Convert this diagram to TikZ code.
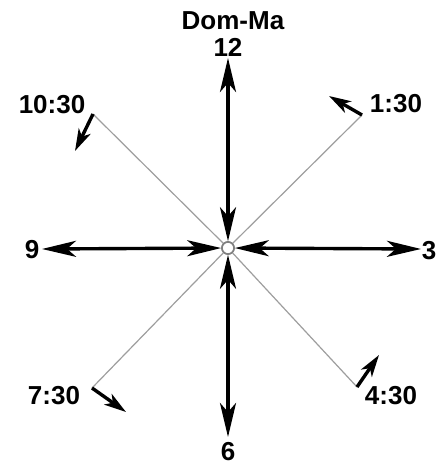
\documentclass[tikz,border=0pt]{standalone}
\usepackage{fontspec}
\setmainfont{Liberation Sans}
\usetikzlibrary{arrows.meta}
\tikzset{
  lbl/.style={font=\bfseries\fontsize{26}{29}\selectfont, inner sep=0pt},
  mainarrow/.style={line width=3.4pt, {Stealth[length=34pt,width=16pt,inset=9pt]}-{Stealth[length=34pt,width=16pt,inset=9pt]}},
  guide/.style={draw=black!38, line width=1.2pt},
  smallarrow/.style={line width=3.4pt, -{Stealth[length=22pt,width=13pt,inset=6pt]}},
  hub/.style={circle, draw=black!50, line width=1.6pt, fill=white, minimum size=12pt, inner sep=0pt}
}
\begin{document}
\begin{tikzpicture}[x=1pt,y=-1pt]
\useasboundingbox (0,0) rectangle (437,466);
\fill[white] (0,0) rectangle (437,466);
% diagonal guide ends
\coordinate (d1) at (93,114);
\coordinate (d2) at (362,115);
\coordinate (d3) at (92,388);
\coordinate (d4) at (357,387);
\coordinate (e1) at (75,151);
\coordinate (e2) at (329,96);
\coordinate (e3) at (126,412);
\coordinate (e4) at (379,355);
% outer tips
\coordinate (t12) at (228,58);
\coordinate (t6) at (228,437);
\coordinate (t9) at (42,249);
\coordinate (t3) at (421,249);
\node[hub] (c) at (228,248) {};
\draw[guide] (c.center) -- (d1);
\draw[guide] (c.center) -- (d2);
\draw[guide] (c.center) -- (d3);
\draw[guide] (c.center) -- (d4);
\node[hub] (c2) at (228,248) {};
\draw[mainarrow] (c2) -- (t12);
\draw[mainarrow] (c2) -- (t6);
\draw[mainarrow] (c2) -- (t9);
\draw[mainarrow] (c2) -- (t3);
\draw[smallarrow] (d1) -- (e1);
\draw[smallarrow] (d2) -- (e2);
\draw[smallarrow] (d3) -- (e3);
\draw[smallarrow] (d4) -- (e4);
% labels
\node[lbl] (title) at (233,21) {Dom-Ma};
\node[lbl] (l12) at (228,47.5) {12};
\node[lbl] (l1030) at (52,105) {10:30};
\node[lbl] (l130) at (396,104) {1:30};
\node[lbl] (l9) at (32,250) {9};
\node[lbl] (l3) at (429,251) {3};
\node[lbl] (l730) at (54,396) {7:30};
\node[lbl] (l430) at (391,396) {4:30};
\node[lbl] (l6) at (228,452) {6};
\end{tikzpicture}
\end{document}
